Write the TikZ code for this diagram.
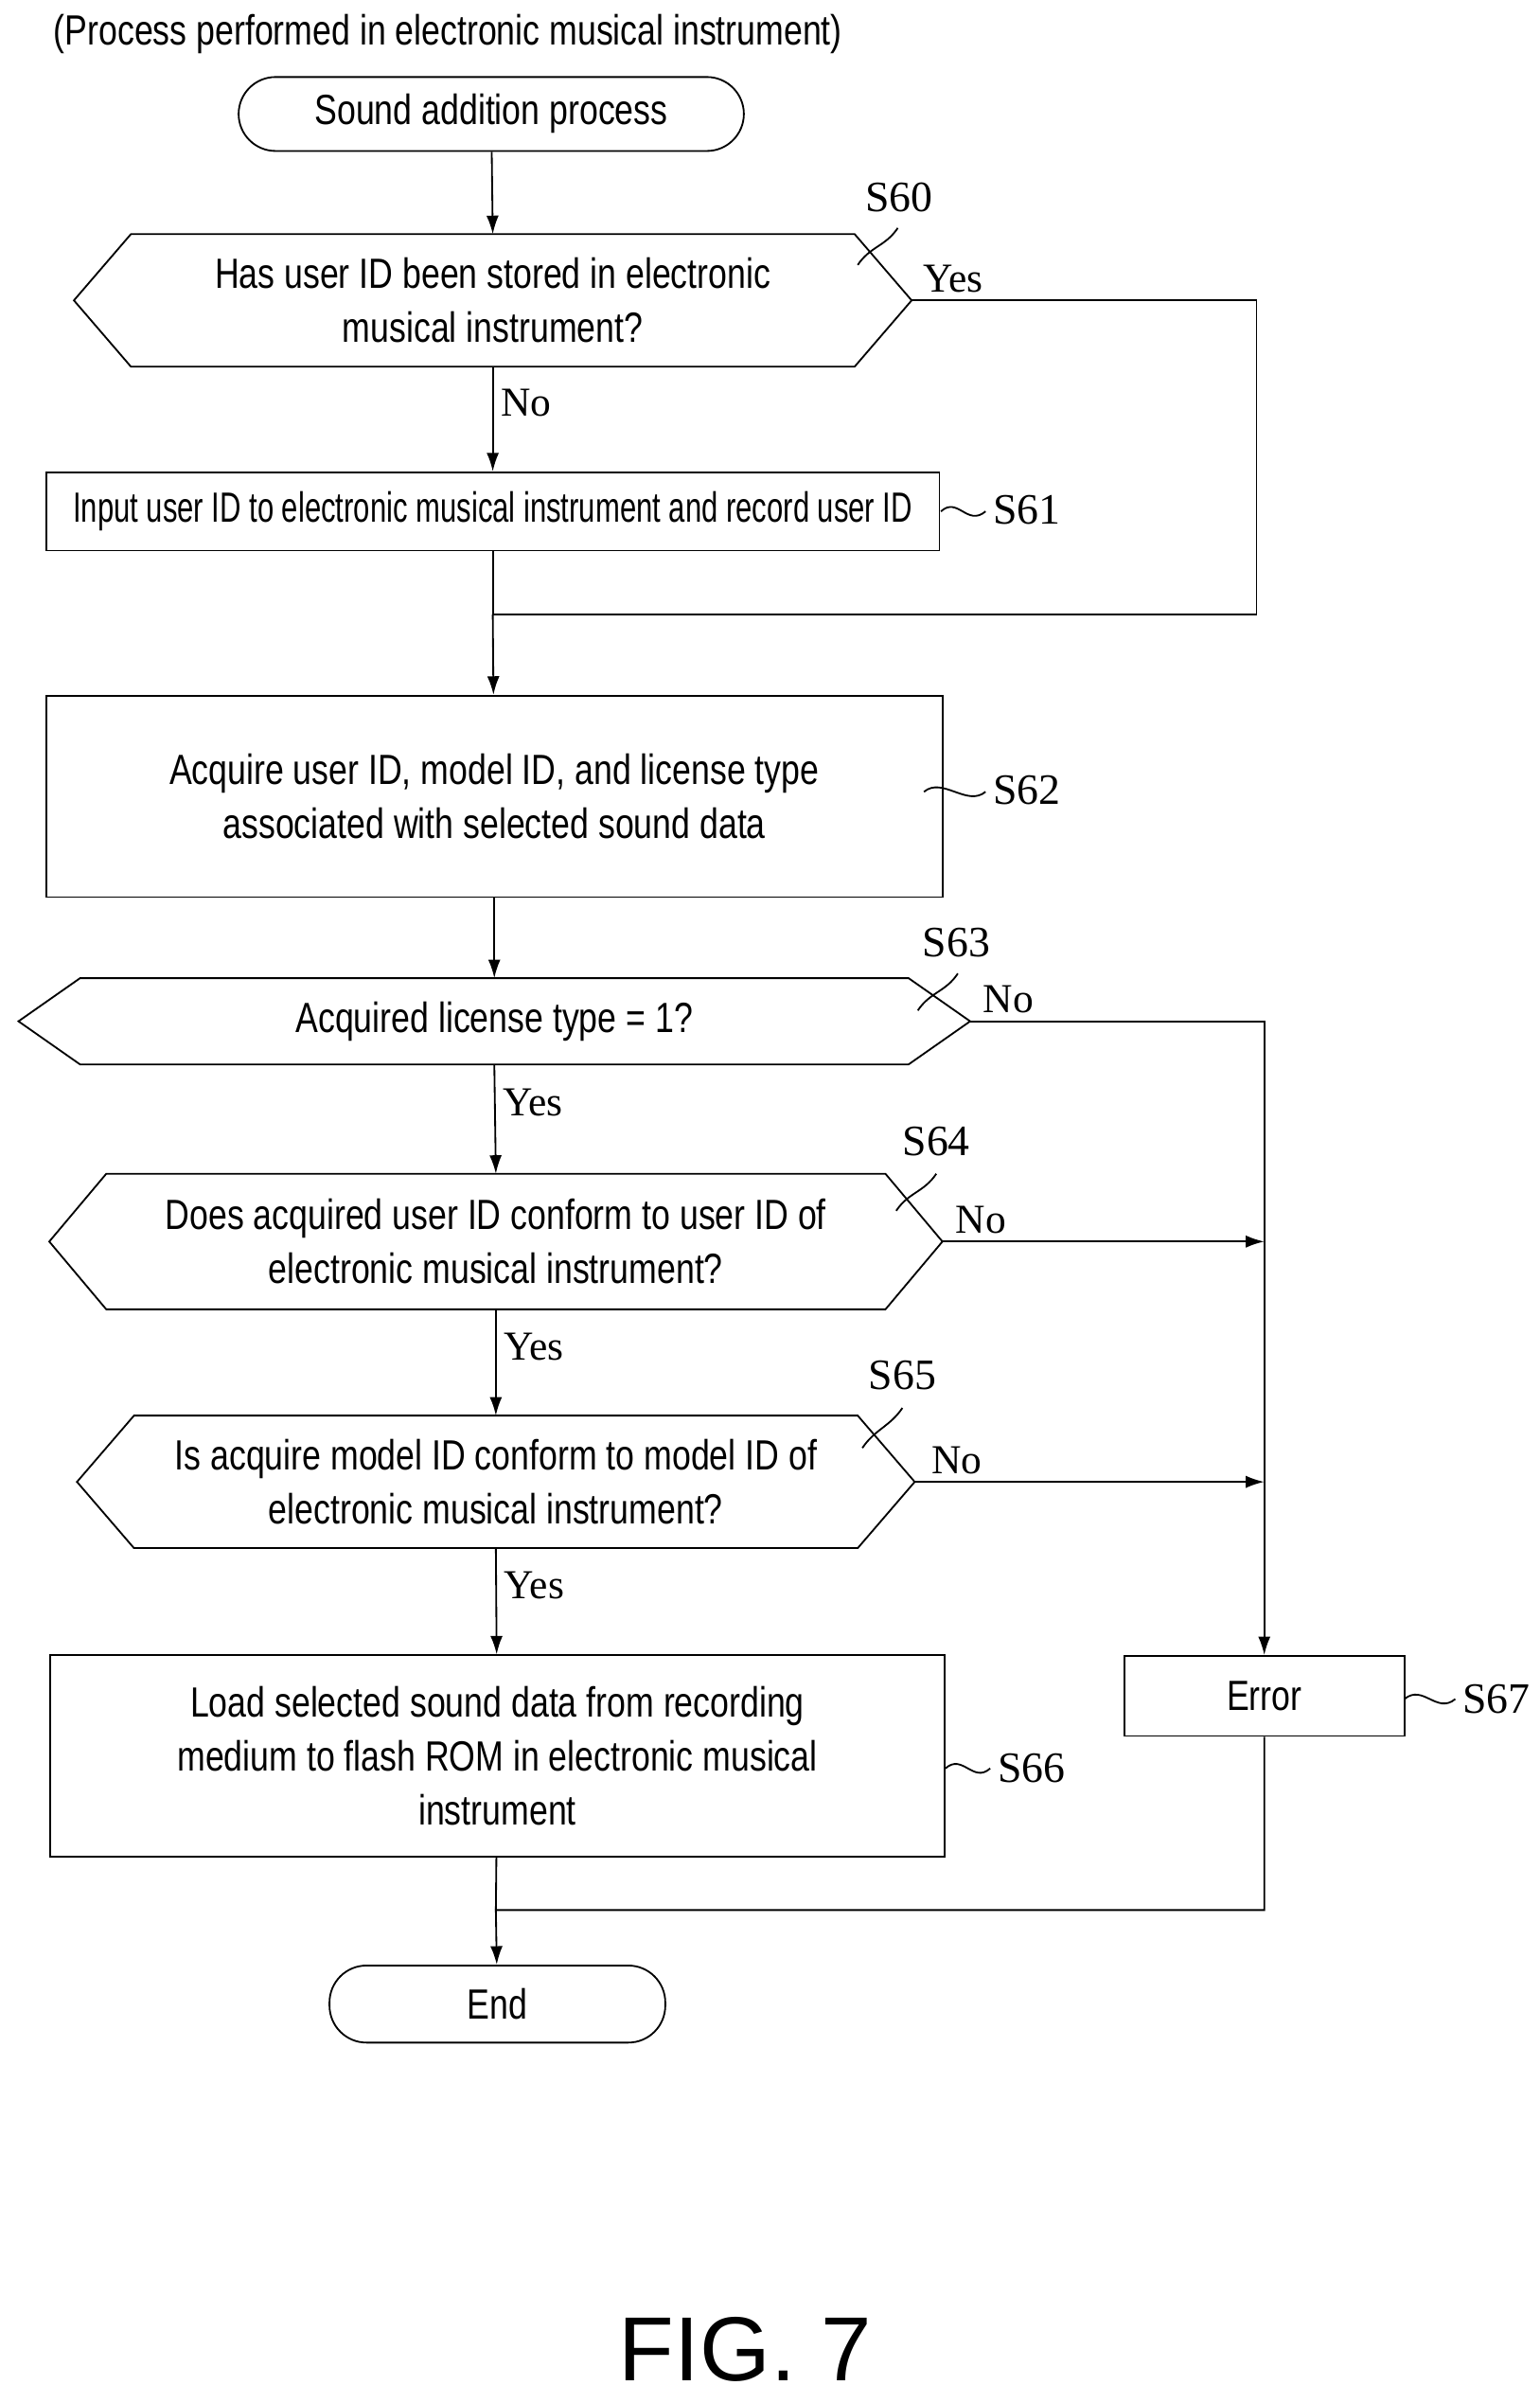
\documentclass[tikz,border=0pt]{standalone}
\usepackage{fontspec}
\usepackage{graphicx}
\setmainfont{Liberation Sans}[FakeStretch=0.8]
\newfontfamily\figfont{Liberation Sans}
\newfontfamily\labfont{Liberation Serif}
\usetikzlibrary{arrows.meta}

\tikzset{
  flow/.style={-{Latex[length=3mm, width=2mm]}, thick},
  line/.style={thick},
  txt/.style={align=center, font=\fontsize{19.5}{25}\selectfont},
  answer/.style={font=\labfont\fontsize{19}{24}\selectfont},
  steplabel/.style={font=\labfont\fontsize{20}{24}\selectfont}
}
% hexagon: name, cx, cy, half width, half height, inset, text
\newcommand{\hexa}[7]{%
  \node[txt] (#1) at (#2,#3) {#7};
  \coordinate (#1-l) at ({#2-#4},#3);
  \coordinate (#1-r) at ({#2+#4},#3);
  \coordinate (#1-t) at (#2,{#3-#5});
  \coordinate (#1-b) at (#2,{#3+#5});
  \draw[line] (#1-l) -- ({#2-#4+#6},{#3-#5}) -- ({#2+#4-#6},{#3-#5})
    -- (#1-r) -- ({#2+#4-#6},{#3+#5}) -- ({#2-#4+#6},{#3+#5}) -- cycle;}
\newcommand{\squig}[2]{%
  \draw[line] (#1) .. controls +(8,-12) and +(-8,12) .. (#2);}

\begin{document}
\begin{tikzpicture}[x=0.025cm, y=-0.025cm]
  \useasboundingbox (0,0) rectangle (1000,1560);

  \node[txt, anchor=west] (title) at (30,22) {(Process performed in electronic musical instrument)};

  \node[txt, draw, thick, rounded corners=0.6cm, minimum width=8.2cm, minimum height=1.2cm] (start) at (319,74) {Sound addition process};

  \hexa{s60}{320}{195}{272}{43}{37}{Has user ID been stored in electronic\\musical instrument?}
  \node[txt, draw, thick, minimum width=14.5cm, minimum height=1.27cm, inner sep=0pt] (s61) at (320,332) {\scalebox{0.87}[1]{Input user ID to electronic musical instrument and record user ID}};
  \node[txt, draw, thick, minimum width=14.55cm, minimum height=3.27cm] (s62) at (321,517) {Acquire user ID, model ID, and license type\\associated with selected sound data};
  \hexa{s63}{321}{663}{309}{28}{40}{Acquired license type = 1?}
  \hexa{s64}{322}{806}{290}{44}{37}{Does acquired user ID conform to user ID of\\electronic musical instrument?}
  \hexa{s65}{322}{962}{272}{43}{37}{Is acquire model ID conform to model ID of\\electronic musical instrument?}
  \node[txt, draw, thick, minimum width=14.52cm, minimum height=3.27cm] (s66) at (323,1140) {Load selected sound data from recording\\medium to flash ROM in electronic musical\\instrument};
  \node[txt, draw, thick, minimum width=4.55cm, minimum height=1.3cm] (s67) at (821,1101) {Error};
  \node[txt, draw, thick, rounded corners=0.6cm, minimum width=5.45cm, minimum height=1.25cm] (end) at (323,1301) {End};

  \coordinate (join1) at (320,399);
  \coordinate (corner1) at (816,195);
  \coordinate (join2) at (322,1240);

  \draw[flow] (start) -- (s60-t);
  \draw[flow] (s60-b) -- node[answer, right, pos=0.35] {No} (s61);
  \draw[line] (s61) -- (join1);
  \draw[line] (s60-r) -- node[answer, above, pos=0.12] {Yes} (corner1) |- (join1);
  \draw[flow] (join1) -- (s62);
  \draw[flow] (s62) -- (s63-t);
  \draw[flow] (s63-b) -- node[answer, right, pos=0.35] {Yes} (s64-t);
  \draw[flow] (s64-b) -- node[answer, right, pos=0.35] {Yes} (s65-t);
  \draw[flow] (s65-b) -- node[answer, right, pos=0.35] {Yes} (s66);
  \draw[flow] (s63-r) -- node[answer, above, pos=0.13] {No} (s63-r -| s67) -- (s67);
  \draw[flow] (s64-r) -- node[answer, above, pos=0.12] {No} (s64-r -| s67);
  \draw[flow] (s65-r) -- node[answer, above, pos=0.12] {No} (s65-r -| s67);
  \draw[line] (s66) -- (join2);
  \draw[flow] (s67) |- (join2) -- (end);

  % step labels
  \node[steplabel] (l60) at (584,128) {S60};
  \squig{557,172}{583,148}
  \node[steplabel, anchor=west] (l61) at (640,331) {S61};
  \draw[line] (611,332) .. controls (622,322) and (628,342) .. (640,332);
  \node[steplabel, anchor=west] (l62) at (640,513) {S62};
  \draw[line] (600,514) .. controls (612,504) and (628,524) .. (640,514);
  \node[steplabel] (l63) at (621,612) {S63};
  \squig{596,656}{622,632}
  \node[steplabel] (l64) at (608,741) {S64};
  \squig{582,786}{608,762}
  \node[steplabel] (l65) at (586,893) {S65};
  \squig{560,940}{586,914}
  \node[steplabel, anchor=west] (l66) at (643,1148) {S66};
  \draw[line] (614,1148) .. controls (625,1138) and (632,1158) .. (643,1148);
  \node[steplabel, anchor=west] (l67) at (945,1103) {S67};
  \draw[line] (912,1103) .. controls (924,1093) and (933,1113) .. (945,1103);

  \node[font=\figfont\fontsize{42}{46}\selectfont] (fig) at (484,1525) {FIG. 7};
\end{tikzpicture}
\end{document}
